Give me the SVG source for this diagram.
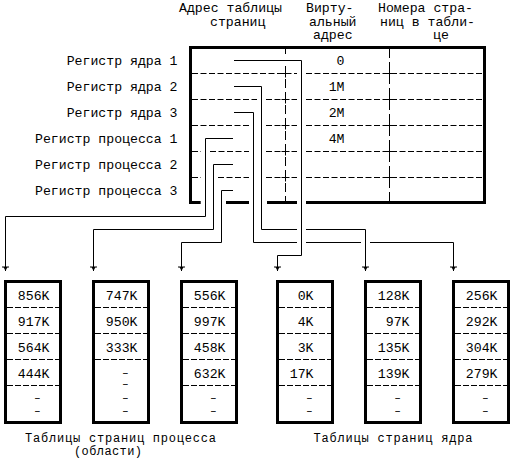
<svg xmlns="http://www.w3.org/2000/svg" width="513" height="459" viewBox="0 0 513 459">
<style>
text{font-family:"Liberation Mono","DejaVu Sans Mono",monospace;font-size:13.2px;fill:#000}
.e{text-anchor:end}
.m{text-anchor:middle}
.d{text-anchor:middle;font-size:9.5px;stroke:#000;stroke-width:0.35}
.cap{font-size:12px}
.thick{fill:none;stroke:#000;stroke-width:3;stroke-linecap:butt;stroke-linejoin:miter}
.dh{fill:none;stroke:#000;stroke-width:1;stroke-dasharray:6 2.5}
.dv{fill:none;stroke:#000;stroke-width:1;stroke-dasharray:9 4}
.sep{fill:none;stroke:#000;stroke-width:1;stroke-dasharray:6 2}
.solid{fill:none;stroke:#000;stroke-width:1}
.conn{fill:none;stroke:#000;stroke-width:1;marker-end:url(#arr)}
</style>
<defs>
<marker id="arr" markerUnits="userSpaceOnUse" orient="auto" refX="0" refY="0" markerWidth="8" markerHeight="8" overflow="visible">
<path d="M-4,-3.5 V3.5" stroke="#000" stroke-width="1" fill="none"/>
<path d="M-4,-2 L0,0 L-4,2 Z" fill="#000" stroke="none"/>
</marker>
</defs>
<rect width="513" height="459" fill="#fff"/>

<g id="header">
<text><tspan x="179" y="12">Адрес таблицы</tspan><tspan x="210" y="25.5">страниц</tspan></text>
<text><tspan x="306" y="12">Вирту-</tspan><tspan x="309" y="25.5">альный</tspan><tspan x="313" y="39">адрес</tspan></text>
<text><tspan x="378" y="12">Номера стра-</tspan><tspan x="380" y="25.5">ниц в табли-</tspan><tspan x="433" y="39">це</tspan></text>
</g>

<g id="register-labels">
<text class="e" x="177.5" y="65">Регистр ядра 1</text>
<text class="e" x="177.5" y="91">Регистр ядра 2</text>
<text class="e" x="177.5" y="117">Регистр ядра 3</text>
<text class="e" x="177.5" y="143">Регистр процесса 1</text>
<text class="e" x="177.5" y="169">Регистр процесса 2</text>
<text class="e" x="177.5" y="195">Регистр процесса 3</text>
</g>

<g id="register-table">
<path class="thick" d="M200.7,202.5 H190.5 V47.5 H484.5 V202.5 H306 M226,202.5 H249 M267,202.5 H297"/>
<path class="dh" d="M192,73.5 H297 M306,73.5 H483 M192,99.5 H257 M266,99.5 H297 M306,99.5 H483 M192,125.5 H249 M266,125.5 H297 M306,125.5 H483 M192,151.5 H201 M210,151.5 H249 M266,151.5 H297 M306,151.5 H483 M192,177.5 H201 M218,177.5 H249 M266,177.5 H297 M306,177.5 H483"/>
<path class="dv" d="M285.5,49 V54 M285.5,66 V201 M389.5,49 V201"/>
<path class="solid" d="M281.5,73.5 h8 M285.5,69.5 v8 M281.5,99.5 h8 M285.5,95.5 v8 M281.5,125.5 h8 M285.5,121.5 v8 M281.5,151.5 h8 M285.5,147.5 v8 M281.5,177.5 h8 M285.5,173.5 v8 M385.5,73.5 h8 M389.5,69.5 v8 M385.5,99.5 h8 M389.5,95.5 v8 M385.5,125.5 h8 M389.5,121.5 v8 M385.5,151.5 h8 M389.5,147.5 v8 M385.5,177.5 h8 M389.5,173.5 v8"/>
<text class="e" x="344.5" y="65">0</text>
<text class="e" x="344.5" y="91">1M</text>
<text class="e" x="344.5" y="117">2M</text>
<text class="e" x="344.5" y="143">4M</text>
</g>

<g id="connectors">
<path class="conn" d="M234,60.5 H301.5 V255.5 H277.5 V271"/>
<path class="conn" d="M234,86.5 H261.5 V229.5 H297 M306,229.5 H365.5 V271"/>
<path class="conn" d="M234,112.5 H253.5 V242.5 H297 M306,242.5 H361 M370,242.5 H453.5 V271"/>
<path class="conn" d="M233,138.5 H205.5 V216.5 H5.5 V271"/>
<path class="conn" d="M233,164.5 H213.5 V229.5 H93.5 V271"/>
<path class="conn" d="M233,190.5 H221.5 V242.5 H181.5 V271"/>
</g>

<g id="proc-table-1">
<rect class="thick" x="5.5" y="281.5" width="55" height="141"/>
<path class="sep" d="M7,307.5 H59 M7,333.5 H59 M7,359.5 H59 M7,385.5 H59"/>
<text class="e" x="49.5" y="299.5">856K</text>
<text class="e" x="49.5" y="325.5">917K</text>
<text class="e" x="49.5" y="351.5">564K</text>
<text class="e" x="49.5" y="377.5">444K</text>
<text class="d" x="37.3" y="401.1">–</text>
<text class="d" x="37.3" y="413.8">–</text>
</g>

<g id="proc-table-2">
<rect class="thick" x="93.5" y="281.5" width="55" height="141"/>
<path class="sep" d="M95,307.5 H147 M95,333.5 H147 M95,359.5 H147"/>
<text class="e" x="137.5" y="299.5">747K</text>
<text class="e" x="137.5" y="325.5">950K</text>
<text class="e" x="137.5" y="351.5">333K</text>
<text class="d" x="125.3" y="376.1">–</text>
<text class="d" x="125.3" y="387.3">–</text>
<text class="d" x="125.3" y="401.1">–</text>
<text class="d" x="125.3" y="413.8">–</text>
</g>

<g id="proc-table-3">
<rect class="thick" x="181.5" y="281.5" width="55" height="141"/>
<path class="sep" d="M183,307.5 H235 M183,333.5 H235 M183,359.5 H235 M183,385.5 H235"/>
<text class="e" x="225.5" y="299.5">556K</text>
<text class="e" x="225.5" y="325.5">997K</text>
<text class="e" x="225.5" y="351.5">458K</text>
<text class="e" x="225.5" y="377.5">632K</text>
<text class="d" x="213.3" y="401.1">–</text>
<text class="d" x="213.3" y="413.8">–</text>
</g>

<g id="kernel-table-1">
<rect class="thick" x="277.5" y="281.5" width="55" height="141"/>
<path class="sep" d="M279,307.5 H331 M279,333.5 H331 M279,359.5 H331 M279,385.5 H331"/>
<text class="e" x="313.5" y="299.5">0K</text>
<text class="e" x="313.5" y="325.5">4K</text>
<text class="e" x="313.5" y="351.5">3K</text>
<text class="e" x="313.5" y="377.5">17K</text>
<text class="d" x="309.3" y="401.1">–</text>
<text class="d" x="309.3" y="413.8">–</text>
</g>

<g id="kernel-table-2">
<rect class="thick" x="365.5" y="281.5" width="55" height="141"/>
<path class="sep" d="M367,307.5 H419 M367,333.5 H419 M367,359.5 H419 M367,385.5 H419"/>
<text class="e" x="409.5" y="299.5">128K</text>
<text class="e" x="409.5" y="325.5">97K</text>
<text class="e" x="409.5" y="351.5">135K</text>
<text class="e" x="409.5" y="377.5">139K</text>
<text class="d" x="397.5" y="401.1">–</text>
<text class="d" x="397.5" y="413.8">–</text>
</g>

<g id="kernel-table-3">
<rect class="thick" x="453.5" y="281.5" width="55" height="141"/>
<path class="sep" d="M455,307.5 H507 M455,333.5 H507 M455,359.5 H507 M455,385.5 H507"/>
<text class="e" x="497.5" y="299.5">256K</text>
<text class="e" x="497.5" y="325.5">292K</text>
<text class="e" x="497.5" y="351.5">304K</text>
<text class="e" x="497.5" y="377.5">279K</text>
<text class="d" x="485.3" y="401.1">–</text>
<text class="d" x="485.3" y="413.8">–</text>
</g>

<g id="captions">
<text class="cap" x="25" y="441.8" textLength="191" lengthAdjust="spacing">Таблицы страниц процесса</text>
<text class="cap" x="74" y="455.4" textLength="68" lengthAdjust="spacing">(области)</text>
<text class="cap" x="313.5" y="441.8" textLength="159" lengthAdjust="spacing">Таблицы страниц ядра</text>
</g>
</svg>
